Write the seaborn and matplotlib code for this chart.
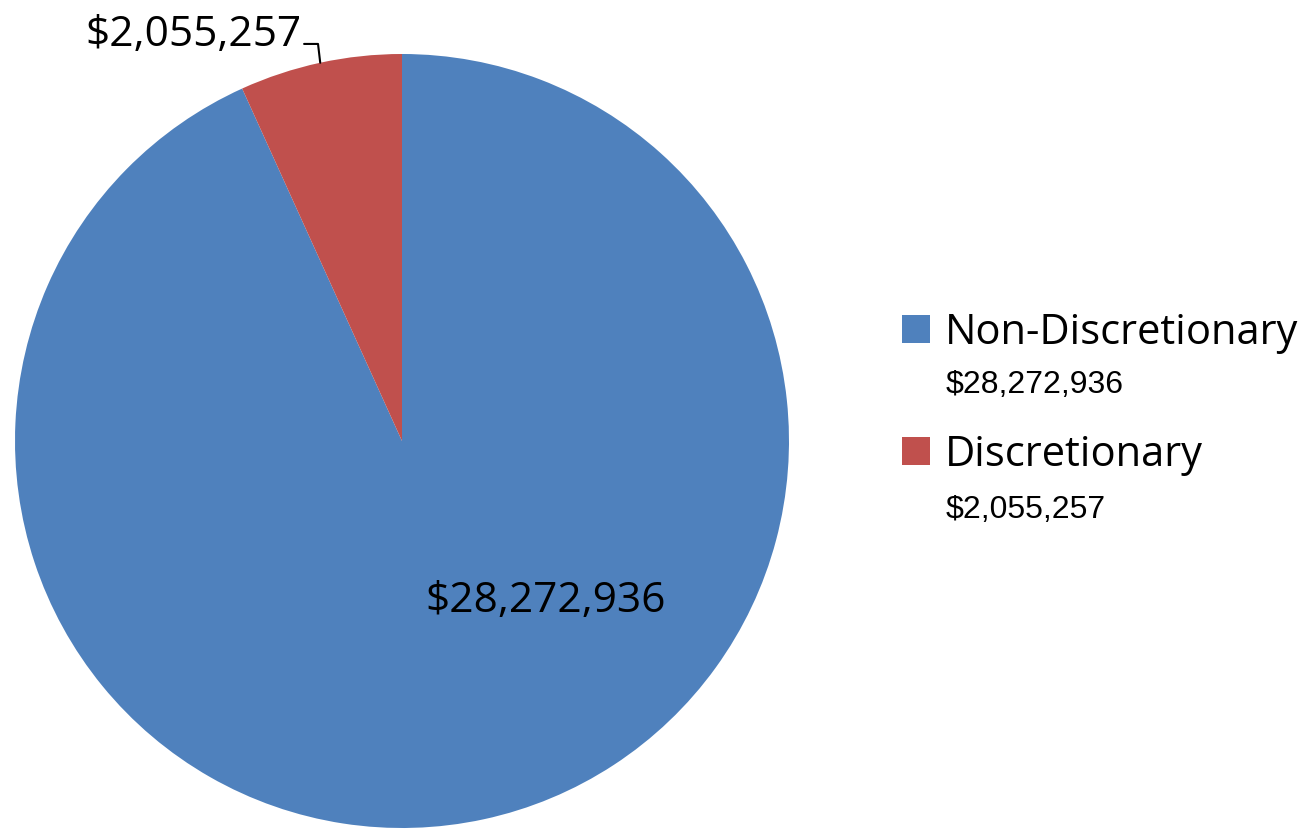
import numpy as np
import seaborn as sns
import matplotlib.pyplot as plt
from matplotlib.patches import Patch

# Budget split
categories = ["Non-Discretionary", "Discretionary"]
amounts = [28272936, 2055257]
colors = ["#4F81BD", "#C0504D"]

sns.set_theme(style="white")
plt.rcParams["font.family"] = ["Open Sans", "DejaVu Sans"]

fig = plt.figure(figsize=(13.06, 8.30), dpi=100)
W, H = 1306, 830
cx, cy, r = 402, 441, 387
ax = fig.add_axes([(cx - r) / W, (H - cy - r) / H, 2 * r / W, 2 * r / H])

wedges, _ = ax.pie(amounts, colors=colors, startangle=90, counterclock=False,
                   wedgeprops=dict(linewidth=0))
ax.set_xlim(-1, 1)
ax.set_ylim(-1, 1)
ax.set_aspect("equal")
ax.axis("off")

labels = [f"${v:,}" for v in amounts]

# big slice label inside
ax.text(0.372, -0.413, labels[0], fontsize=30.5, ha="center", va="center", color="black")

# small slice label outside with leader line
w = wedges[1]
mid = np.deg2rad((w.theta1 + w.theta2) / 2)
ex, ey = np.cos(mid), np.sin(mid)
ax.plot([-0.253, -0.217, ex], [1.026, 1.026, ey], color="black", lw=1.5, clip_on=False)
ax.text(-0.26, 1.05, labels[1], fontsize=30.5, ha="right", va="center", color="black")

# legend
handles = [Patch(facecolor=c, edgecolor="none") for c in colors]
leg = fig.legend(handles, categories, loc="upper left", bbox_to_anchor=(885 / W, 1 - 295 / H),
                 frameon=False, fontsize=30, handlelength=0.67, handleheight=0.67,
                 handletextpad=0.36, labelspacing=1.92, borderaxespad=0)
for t in leg.get_texts():
    t.set_color("black")

fig.text(946 / W, 1 - 385 / H, labels[0], fontsize=23, family="Liberation Sans",
         va="center", color="black")
fig.text(946 / W, 1 - 510 / H, labels[1], fontsize=23, family="Liberation Sans",
         va="center", color="black")

fig.savefig("out.png", dpi=100)
